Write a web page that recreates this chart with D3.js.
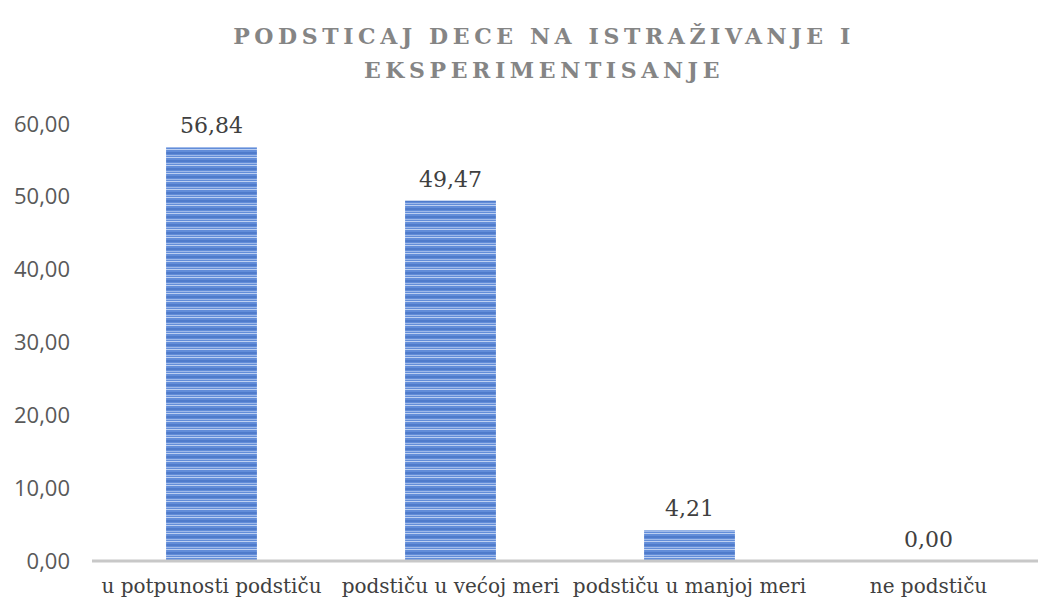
<!DOCTYPE html>
<html>
<head>
<meta charset="utf-8">
<script src="https://cdn.jsdelivr.net/npm/d3@7"></script>
<style>
  body { margin: 0; background: #fff; }
</style>
</head>
<body>
<script>

var categories = ['u potpunosti podstiču', 'podstiču u većoj meri', 'podstiču u manjoj meri', 'ne podstiču']
var values = [56.84, 49.47, 4.21, 0.00]
var yTicks = [0, 10, 20, 30, 40, 50, 60]
var titleLines = ['PODSTICAJ DECE NA ISTRAŽIVANJE I', 'EKSPERIMENTISANJE']

var width = 1038
var height = 604

var svg = d3.select('body')
            .append('svg')
                .attr('width', width)
                .attr('height', height)

// striped fill like the original
var defs = svg.append('defs')
var pat = defs.append('pattern')
            .attr('id', 'stripes')
            .attr('patternUnits', 'userSpaceOnUse')
            .attr('width', 10)
            .attr('height', 8)
pat.append('rect').attr('width', 10).attr('height', 8).attr('fill', '#628dd9')
pat.append('rect').attr('y', 0).attr('width', 10).attr('height', 2).attr('fill', '#4f7bcb')
pat.append('rect').attr('y', 3).attr('width', 10).attr('height', 1).attr('fill', '#9fb9e9')
pat.append('rect').attr('y', 5).attr('width', 10).attr('height', 1).attr('fill', '#bccff1')

var x = d3.scaleBand()
            .domain(categories)
            .range([92, 1048])
            .paddingInner(0.62)
            .paddingOuter(0.31)

var y = d3.scaleLinear()
            .domain([0, 60])
            .range([561, 124])

// title
svg.append('g')
    .selectAll('text')
    .data(titleLines)
    .enter()
        .append('text')
            .attr('x', 544)
            .attr('y', function(d, i) { return 44 + i * 34 })
            .attr('text-anchor', 'middle')
            .style('font-family', '"DejaVu Serif", serif')
            .style('font-weight', 'bold')
            .style('font-size', '22px')
            .style('letter-spacing', '4.6px')
            .style('fill', '#858585')
            .text(function(d) { return d })

// y axis labels
var yAxis = d3.axisLeft(y)
            .tickValues(yTicks)
            .tickSize(0)
            .tickPadding(0)
            .tickFormat(function(d) { return d3.format('.2f')(d).replace('.', ',') })

var gy = svg.append('g')
            .attr('transform', 'translate(70,0)')
            .call(yAxis)
gy.select('.domain').remove()
gy.selectAll('text')
    .style('font-family', '"Open Sans", "Liberation Sans", sans-serif')
    .style('font-size', '22px')
    .style('fill', '#595959')

// bars
svg.append('g')
    .selectAll('rect')
    .data(values)
    .enter()
        .append('rect')
            .attr('x', function(d, i) { return x(categories[i]) })
            .attr('y', function(d) { return y(d) })
            .attr('width', x.bandwidth())
            .attr('height', function(d) { return y(0) - y(d) })
            .attr('fill', 'url(#stripes)')

// baseline
var xAxis = d3.axisBottom(x)
            .tickSize(0)
            .tickPadding(18)

var gx = svg.append('g')
            .attr('transform', 'translate(0,' + y(0) + ')')
            .call(xAxis)
gx.select('.domain')
    .attr('d', 'M92,0H1038')
    .attr('stroke', '#c8c8c8')
    .attr('stroke-width', 3)
gx.selectAll('text')
    .attr('dy', '0.71em')
    .style('font-family', '"DejaVu Serif", serif')
    .style('font-size', '20px')
    .style('fill', '#404040')

// value labels
svg.append('g')
    .selectAll('text')
    .data(values)
    .enter()
        .append('text')
            .attr('x', function(d, i) { return x(categories[i]) + x.bandwidth() / 2 })
            .attr('y', function(d) { return y(d) - 14 })
            .attr('text-anchor', 'middle')
            .style('font-family', '"DejaVu Serif", serif')
            .style('font-size', '22px')
            .style('fill', '#404040')
            .text(function(d) { return d3.format('.2f')(d).replace('.', ',') })

</script>
</body>
</html>
